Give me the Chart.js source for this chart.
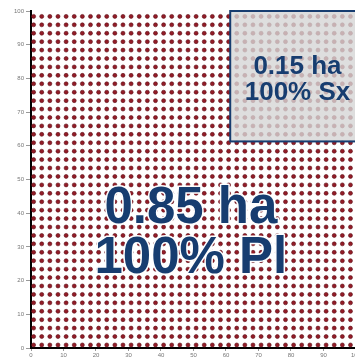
<!DOCTYPE html>
<html>
<head>
<meta charset="utf-8">
<script src="https://cdn.jsdelivr.net/npm/chart.js@4"></script>
<style>
  html, body { margin: 0; padding: 0; overflow: hidden; background: #fff; }
</style>
</head>
<body>
<canvas id="plot" width="362" height="360"></canvas>
<script>
// column and row positions of the dot grid (plot units, 0-100)
var colX = [0.8, 3.3, 5.8, 8.3, 10.8, 13.3, 15.8, 18.3, 20.8, 23.3,
            25.8, 28.3, 30.8, 33.3, 35.8, 38.3, 40.8, 43.3, 45.8, 48.3,
            50.8, 53.3, 55.8, 58.3, 60.8, 63.3, 65.8, 68.3, 70.8, 73.3,
            75.8, 78.3, 80.8, 83.3, 85.8, 88.3, 90.8, 93.3, 95.8, 98.3];
var rowY = [0.9, 3.4, 5.9, 8.4, 10.9, 13.4, 15.9, 18.4, 20.9, 23.4,
            25.9, 28.4, 30.9, 33.4, 35.9, 38.4, 40.9, 43.4, 45.9, 48.4,
            50.9, 53.4, 55.9, 58.4, 60.9, 63.4, 65.9, 68.4, 70.9, 73.4,
            75.9, 78.4, 80.9, 83.4, 85.9, 88.4, 90.9, 93.4, 95.9, 98.4];

// inset plot (0.15 ha) corners in plot units
var insetX = [61.3, 100];
var insetY = [61.3, 100];

var mainLabel = ['0.85 ha', '100% Pl'];
var insetLabel = ['0.15 ha', '100% Sx'];

var points = [];
rowY.forEach(function(y) {
  colX.forEach(function(x) { points.push({x: x, y: y}); });
});

var navy = '#173d70';

var overlay = {
  id: 'overlay',
  afterDatasetsDraw: function(chart) {
    var ctx = chart.ctx;
    var xs = chart.scales.x, ys = chart.scales.y;

    // main label with a thin white halo
    ctx.save();
    ctx.font = 'bold 51px "Liberation Sans", Arial, sans-serif';
    ctx.textAlign = 'center';
    ctx.textBaseline = 'middle';
    ctx.lineJoin = 'round';
    var cx = xs.getPixelForValue(49.2);
    var lines = [ys.getPixelForValue(41.2), ys.getPixelForValue(26.5)];
    mainLabel.forEach(function(t, i) {
      ctx.strokeStyle = '#fff';
      ctx.lineWidth = 3;
      ctx.strokeText(t, cx, lines[i]);
      ctx.fillStyle = navy;
      ctx.fillText(t, cx, lines[i]);
    });
    ctx.restore();

    // inset box
    var x0 = xs.getPixelForValue(insetX[0]), x1 = xs.getPixelForValue(insetX[1]);
    var y0 = ys.getPixelForValue(insetY[1]), y1 = ys.getPixelForValue(insetY[0]);
    ctx.save();
    ctx.fillStyle = 'rgba(214, 214, 214, 0.8)';
    ctx.fillRect(x0, y0, x1 - x0, y1 - y0);
    ctx.strokeStyle = navy;
    ctx.lineWidth = 2;
    ctx.strokeRect(x0, y0, x1 - x0, y1 - y0);

    ctx.font = 'bold 26px "Liberation Sans", Arial, sans-serif';
    ctx.textAlign = 'center';
    ctx.textBaseline = 'middle';
    ctx.fillStyle = navy;
    var ix = xs.getPixelForValue(82);
    ctx.fillText(insetLabel[0], ix, ys.getPixelForValue(83.4));
    ctx.fillText(insetLabel[1], ix, ys.getPixelForValue(75.8));
    ctx.restore();
  }
};

new Chart(document.getElementById('plot'), {
  type: 'scatter',
  data: {
    datasets: [{
      data: points,
      pointRadius: 2,
      pointBackgroundColor: '#931c27',
      pointBorderColor: '#5c0d15',
      pointBorderWidth: 0.6
    }]
  },
  options: {
    responsive: false,
    animation: false,
    layout: { padding: { top: 11, left: 0, right: 0, bottom: 0 } },
    plugins: { legend: { display: false }, tooltip: { enabled: false } },
    scales: {
      x: {
        min: 0, max: 100,
        ticks: { stepSize: 10, color: '#777', font: { size: 6 }, padding: 1 },
        grid: { drawOnChartArea: false, drawTicks: true, tickLength: 3, color: '#999' },
        border: { color: '#000', width: 2 },
        afterFit: function(s) { s.height = 12; }
      },
      y: {
        min: 0, max: 100,
        ticks: { stepSize: 10, color: '#777', font: { size: 6 }, padding: 2 },
        grid: { drawOnChartArea: false, drawTicks: true, tickLength: 5, color: '#999' },
        border: { color: '#000', width: 2 },
        afterFit: function(s) { s.width = 31; }
      }
    }
  },
  plugins: [overlay]
});
</script>
</body>
</html>
